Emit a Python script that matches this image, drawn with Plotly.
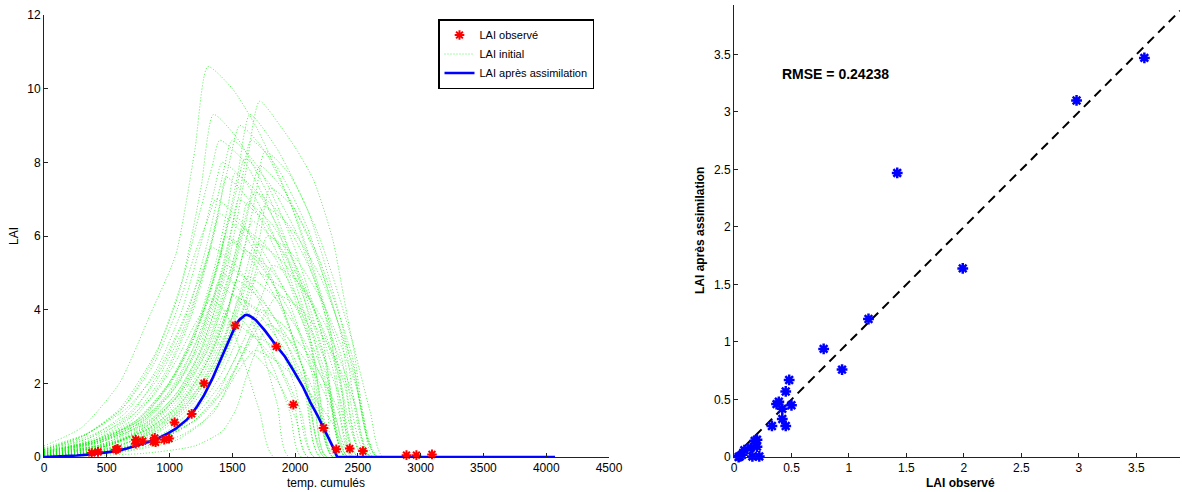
import plotly.graph_objects as go

# ---------------- Left panel data: LAI vs cumulative temperature ----------------
obs_temp = [380, 430, 572, 585, 731, 731, 787, 870, 882, 889, 958, 996, 1040,
            1176, 1275, 1524, 1850, 1986, 2226, 2328, 2435, 2540, 2887, 2966, 3090]
obs_lai = [0.11, 0.14, 0.20, 0.22, 0.47, 0.36, 0.43, 0.42, 0.52, 0.40, 0.47, 0.50, 0.94,
           1.17, 2.00, 3.57, 3.00, 1.42, 0.79, 0.21, 0.23, 0.16, 0.05, 0.05, 0.07]

sim_end = 4070
assim_temp = [0, 150, 262, 350, 420, 500, 579, 660, 737, 810, 880, 940, 990, 1050, 1100,
              1140, 1176, 1220, 1275, 1340, 1401, 1460, 1524, 1555, 1580, 1600, 1616, 1640,
              1686, 1760, 1850, 1920, 1986, 2060, 2128, 2180, 2226, 2265, 2302, 2335, sim_end]
assim_lai = [0, 0.015, 0.04, 0.065, 0.09, 0.12, 0.16, 0.23, 0.32, 0.39, 0.46, 0.56, 0.65, 0.77, 0.9,
             1.02, 1.17, 1.38, 1.68, 2.12, 2.6, 3.08, 3.56, 3.72, 3.8, 3.85, 3.86, 3.83,
             3.72, 3.43, 3.02, 2.72, 2.35, 1.92, 1.44, 1.12, 0.79, 0.53, 0.27, 0, 0]

# initial-LAI ensemble curves, (temp, LAI) points
init_01 = [(0, 0.3), (300, 0.8), (600, 2.0), (850, 3.9), (1050, 5.5), (1200, 8.3), (1305, 10.6),
           (1500, 10.0), (1700, 8.9), (1950, 7.0), (2200, 4.4), (2380, 1.6), (2460, 0)]
init_02 = [(0, 0.05), (500, 0.3), (800, 0.8), (1050, 1.6), (1250, 2.9), (1450, 5.0), (1600, 7.6),
           (1717, 9.66), (1880, 9.0), (2020, 8.3), (2150, 7.5), (2300, 5.9), (2440, 3.4), (2600, 1.2), (2700, 0)]
init_03 = [(0, 0.2), (300, 0.55), (600, 1.3), (900, 2.9), (1100, 4.8), (1250, 7.3), (1350, 9.3),
           (1550, 8.6), (1800, 7.0), (2050, 4.6), (2250, 1.7), (2330, 0)]
init_04 = [(0, 0.1), (400, 0.4), (700, 0.9), (1000, 2.0), (1200, 3.3), (1400, 5.4), (1540, 7.6),
           (1640, 9.3), (1850, 8.4), (2100, 6.7), (2350, 3.9), (2550, 1.0), (2620, 0)]
init_05 = [(0, 0.15), (400, 0.5), (700, 1.2), (950, 2.5), (1150, 4.0), (1300, 5.8), (1420, 7.6),
           (1500, 8.6), (1700, 7.9), (1950, 6.1), (2200, 3.5), (2450, 0)]
init_06 = [(0, 0.08), (450, 0.4), (800, 1.1), (1050, 2.3), (1250, 3.8), (1420, 5.7), (1530, 7.2),
           (1600, 8.1), (1800, 7.4), (2050, 5.8), (2300, 3.2), (2550, 0)]
init_07 = [(0, 0.12), (400, 0.45), (700, 1.0), (950, 2.1), (1150, 3.6), (1300, 5.3), (1400, 6.8),
           (1450, 7.6), (1650, 6.9), (1900, 5.2), (2150, 2.7), (2300, 0)]
init_08 = [(0, 0.05), (500, 0.3), (850, 0.9), (1100, 1.8), (1300, 3.0), (1480, 4.8), (1620, 6.7),
           (1720, 7.9), (1920, 7.2), (2150, 5.6), (2400, 3.0), (2600, 0)]
init_09 = [(0, 0.1), (450, 0.4), (800, 1.0), (1050, 2.0), (1250, 3.4), (1400, 4.9), (1500, 6.3),
           (1550, 7.0), (1750, 6.4), (2000, 4.9), (2250, 2.5), (2400, 0)]
init_10 = [(0, 0.2), (350, 0.55), (650, 1.1), (900, 2.1), (1100, 3.4), (1250, 4.8), (1350, 6.0),
           (1400, 6.6), (1600, 6.0), (1850, 4.5), (2080, 2.2), (2200, 0)]
init_11 = [(0, 0.06), (500, 0.3), (850, 0.8), (1100, 1.6), (1300, 2.7), (1480, 4.2), (1600, 5.7),
           (1660, 6.4), (1860, 5.8), (2100, 4.4), (2350, 2.2), (2500, 0)]
init_12 = [(0, 0.15), (450, 0.45), (800, 1.0), (1050, 1.9), (1250, 3.1), (1380, 4.4), (1460, 5.4),
           (1500, 5.9), (1700, 5.3), (1950, 4.0), (2180, 2.0), (2300, 0)]
init_13 = [(0, 0.03), (600, 0.25), (950, 0.75), (1200, 1.5), (1400, 2.5), (1580, 3.9), (1710, 5.3),
           (1780, 6.0), (1980, 5.5), (2220, 4.2), (2480, 2.0), (2650, 0)]
init_14 = [(0, 0.12), (450, 0.4), (800, 0.9), (1050, 1.7), (1230, 2.8), (1350, 3.9), (1420, 4.8),
           (1450, 5.2), (1650, 4.7), (1880, 3.5), (2080, 1.7), (2200, 0)]
init_15 = [(0, 0.05), (500, 0.25), (900, 0.7), (1150, 1.4), (1350, 2.4), (1480, 3.4), (1570, 4.4),
           (1620, 4.9), (1820, 4.4), (2050, 3.3), (2280, 1.6), (2400, 0)]
init_16 = [(0, 0.02), (650, 0.2), (1000, 0.6), (1250, 1.3), (1450, 2.2), (1620, 3.4), (1760, 4.6),
           (1820, 5.2), (2010, 4.8), (2240, 3.6), (2460, 1.7), (2600, 0)]
init_17 = [(0, 0.08), (500, 0.3), (850, 0.7), (1100, 1.3), (1300, 2.2), (1430, 3.1), (1510, 3.9),
           (1550, 4.3), (1740, 3.9), (1960, 2.9), (2150, 1.4), (2250, 0)]
init_18 = [(0, 0.03), (600, 0.2), (1000, 0.6), (1250, 1.1), (1450, 1.9), (1580, 2.8), (1680, 3.6),
           (1720, 4.0), (1900, 3.6), (2120, 2.7), (2340, 1.3), (2450, 0)]
init_19 = [(0, 0.1), (450, 0.3), (800, 0.65), (1050, 1.2), (1250, 2.0), (1370, 2.8), (1450, 3.4),
           (1480, 3.7), (1660, 3.3), (1870, 2.5), (2050, 1.2), (2150, 0)]
init_20 = [(0, 0.04), (550, 0.2), (950, 0.55), (1200, 1.0), (1400, 1.7), (1520, 2.4), (1610, 3.0),
           (1650, 3.3), (1830, 3.0), (2040, 2.2), (2220, 1.0), (2300, 0)]
init_21 = [(0, 0.02), (650, 0.15), (1050, 0.45), (1250, 0.9), (1400, 1.5), (1520, 2.2), (1620, 2.7),
           (1680, 2.9), (1850, 2.6), (2080, 1.9), (2300, 0.9), (2400, 0)]
init_22 = [(0, 0.18), (400, 0.45), (750, 0.95), (1000, 1.7), (1180, 2.7), (1300, 3.8), (1360, 4.4),
           (1380, 4.7), (1560, 4.2), (1780, 3.1), (1990, 1.5), (2100, 0)]
init_23 = [(0, 0.25), (350, 0.65), (650, 1.3), (900, 2.3), (1080, 3.5), (1220, 4.7), (1300, 5.4),
           (1330, 5.7), (1530, 5.2), (1770, 3.9), (2000, 1.9), (2150, 0)]
init_24 = [(0, 0.02), (700, 0.2), (1100, 0.6), (1350, 1.2), (1500, 2.2), (1650, 3.2), (1780, 4.0),
           (1860, 4.4), (2050, 4.0), (2270, 3.0), (2480, 1.4), (2600, 0)]
init_25 = [(0, 0.05), (550, 0.2), (950, 0.5), (1200, 1.0), (1380, 1.7), (1480, 2.4), (1540, 2.8),
           (1560, 3.0), (1700, 2.7), (1870, 2.0), (2010, 1.0), (2100, 0)]
init_26 = [(0, 0.2), (350, 0.5), (650, 1.0), (880, 1.7), (1050, 2.6), (1200, 3.6), (1290, 4.1),
           (1330, 4.3), (1450, 3.9), (1600, 2.5), (1720, 1.2), (1830, 0)]
init_27 = [(0, 0.01), (800, 0.1), (1200, 0.3), (1420, 0.7), (1530, 1.3), (1614, 2.2), (1700, 3.0),
           (1780, 3.6), (1950, 3.2), (2150, 2.3), (2330, 1.0), (2420, 0)]
init_28 = [(0, 0.15), (400, 0.4), (750, 0.9), (1000, 1.8), (1180, 2.9), (1320, 4.1), (1390, 4.7),
           (1420, 5.0), (1560, 4.5), (1720, 3.1), (1860, 1.4), (1950, 0)]
init_29 = [(0, 0.18), (350, 0.5), (650, 1.2), (900, 2.4), (1100, 4.0), (1250, 5.8), (1360, 7.3),
           (1420, 8.0), (1620, 7.4), (1870, 5.7), (2120, 3.2), (2350, 0)]
init_30 = [(0, 0.12), (400, 0.45), (700, 1.1), (950, 2.2), (1150, 3.7), (1320, 5.7), (1470, 7.9),
           (1560, 9.0), (1760, 8.3), (2010, 6.5), (2260, 3.8), (2500, 0)]
init_31 = [(0, 0.05), (500, 0.3), (850, 0.85), (1100, 1.7), (1300, 2.9), (1460, 4.5), (1590, 6.1),
           (1680, 7.2), (1880, 6.6), (2120, 5.1), (2370, 2.7), (2550, 0)]
init_32 = [(0, 0.14), (420, 0.45), (760, 1.0), (1000, 2.0), (1200, 3.3), (1340, 4.7), (1430, 5.9),
           (1480, 6.5), (1680, 5.9), (1920, 4.5), (2140, 2.2), (2250, 0)]
init_33 = [(0, 0.03), (550, 0.25), (900, 0.75), (1150, 1.5), (1360, 2.6), (1530, 4.1), (1660, 5.7),
           (1750, 6.8), (1950, 6.3), (2200, 4.9), (2460, 2.5), (2650, 0)]
init_34 = [(0, 0.07), (480, 0.3), (850, 0.8), (1100, 1.5), (1300, 2.6), (1450, 3.8), (1550, 5.0),
           (1600, 5.6), (1800, 5.1), (2030, 3.9), (2260, 1.9), (2400, 0)]
init_35 = [(0, 0.22), (330, 0.6), (620, 1.3), (870, 2.5), (1060, 4.0), (1200, 5.5), (1310, 6.5),
           (1370, 7.0), (1570, 6.4), (1820, 4.8), (2060, 2.4), (2250, 0)]
init_36 = [(0, 0.03), (600, 0.22), (980, 0.65), (1220, 1.3), (1420, 2.3), (1560, 3.4), (1650, 4.4),
           (1700, 5.0), (1890, 4.6), (2120, 3.5), (2350, 1.7), (2500, 0)]
init_37 = [(0, 0.1), (460, 0.33), (820, 0.75), (1070, 1.4), (1270, 2.4), (1400, 3.4), (1490, 4.3),
           (1530, 4.8), (1720, 4.3), (1950, 3.2), (2170, 1.6), (2300, 0)]
init_38 = [(0, 0.02), (620, 0.22), (980, 0.7), (1230, 1.5), (1430, 2.6), (1600, 4.2), (1720, 6.0),
           (1800, 7.3), (1980, 6.8), (2200, 5.3), (2450, 2.8), (2650, 0)]
init_39 = [(0, 0.15), (420, 0.4), (780, 0.85), (1030, 1.5), (1220, 2.4), (1350, 3.2), (1420, 3.8),
           (1450, 4.0), (1610, 3.6), (1800, 2.6), (1960, 1.2), (2050, 0)]
init_40 = [(0, 0.06), (470, 0.35), (820, 1.0), (1070, 2.0), (1270, 3.4), (1440, 5.3), (1570, 7.4),
           (1650, 8.6), (1850, 7.9), (2100, 6.2), (2360, 3.4), (2580, 0)]
init_41 = [(0, 0.1), (430, 0.42), (760, 1.05), (1010, 2.1), (1210, 3.5), (1370, 5.3), (1470, 6.9),
           (1520, 7.7), (1720, 7.1), (1970, 5.5), (2220, 2.9), (2420, 0)]
init_42 = [(0, 0.06), (480, 0.32), (840, 0.9), (1090, 1.8), (1290, 3.0), (1450, 4.6), (1570, 6.2),
           (1620, 6.9), (1820, 6.3), (2060, 4.8), (2300, 2.4), (2470, 0)]
init_43 = [(0, 0.16), (400, 0.45), (740, 1.0), (990, 1.9), (1180, 3.1), (1320, 4.4), (1410, 5.5),
           (1440, 6.0), (1640, 5.4), (1880, 4.1), (2100, 2.0), (2230, 0)]
init_44 = [(0, 0.04), (560, 0.27), (920, 0.75), (1170, 1.5), (1370, 2.5), (1530, 3.8), (1650, 5.2),
           (1700, 5.8), (1900, 5.3), (2140, 4.1), (2390, 2.0), (2540, 0)]
init_45 = [(0, 0.09), (460, 0.35), (820, 0.9), (1070, 1.8), (1270, 3.0), (1420, 4.4), (1530, 5.6),
           (1580, 6.2), (1780, 5.7), (2020, 4.3), (2260, 2.1), (2420, 0)]
init_46 = [(0, 0.03), (560, 0.26), (900, 0.8), (1150, 1.7), (1360, 3.0), (1540, 4.9), (1680, 7.0),
           (1760, 8.3), (1950, 7.7), (2190, 6.0), (2450, 3.2), (2660, 0)]
init_47 = [(0, 0.2), (330, 0.6), (630, 1.35), (880, 2.7), (1080, 4.5), (1230, 6.5), (1340, 7.9),
           (1400, 8.6), (1600, 8.0), (1850, 6.3), (2100, 3.6), (2320, 0)]
init_48 = [(0, 0.1), (460, 0.32), (820, 0.72), (1070, 1.3), (1260, 2.2), (1390, 3.1), (1470, 4.0),
           (1500, 4.4), (1680, 4.0), (1900, 3.0), (2110, 1.5), (2230, 0)]
init_curves = [init_01, init_02, init_03, init_04, init_05, init_06, init_07, init_08, init_09,
               init_10, init_11, init_12, init_13, init_14, init_15, init_16, init_17, init_18,
               init_19, init_20, init_21, init_22, init_23, init_24, init_25, init_26, init_27,
               init_28, init_29, init_30, init_31, init_32, init_33, init_34, init_35, init_36,
               init_37, init_38, init_39, init_40, init_41, init_42, init_43, init_44, init_45,
               init_46, init_47, init_48]

# ---------------- Right panel data: observed vs assimilated ----------------
scat_obs = [3.57, 2.98, 1.42, 1.99, 1.17, 0.78, 0.94, 0.48, 0.45, 0.39, 0.37, 0.42, 0.50,
            0.42, 0.45, 0.33, 0.20, 0.18, 0.20, 0.145, 0.09, 0.16, 0.22, 0.05, 0.07, 0.04]
scat_assim = [3.47, 3.10, 2.47, 1.64, 1.20, 0.94, 0.76, 0.67, 0.57, 0.48, 0.46, 0.42, 0.45,
              0.33, 0.27, 0.27, 0.15, 0.14, 0.09, 0.08, 0.06, 0.005, 0.005, 0.005, 0.02, 0.0]
one_to_one = [0, 3.88]
rmse_label = "RMSE = 0.24238"
rmse_pos = (0.40, 3.33)

FONT = "Liberation Sans, Arial, Helvetica, sans-serif"
W, H = 1182, 492   # reference picture size, used for the paper-fraction layout

fig = go.Figure()

for i, curve in enumerate(init_curves):
    xs = [p[0] for p in curve] + [sim_end]
    ys = [p[1] for p in curve] + [0]
    fig.add_trace(go.Scatter(
        x=xs, y=ys, mode="lines", name="LAI initial", legendgroup="init",
        showlegend=(i == 0), legendrank=2,
        line=dict(color="rgba(0,240,0,0.7)", width=1, dash="1px,2px",
                  shape="spline", smoothing=0.6),
        hoverinfo="skip", xaxis="x", yaxis="y"))

fig.add_trace(go.Scatter(
    x=assim_temp, y=assim_lai, mode="lines", name="LAI après assimilation",
    legendrank=3, line=dict(color="#0000ff", width=2.6), xaxis="x", yaxis="y"))

fig.add_trace(go.Scatter(
    x=obs_temp, y=obs_lai, mode="markers", name="LAI observé", legendrank=1,
    marker=dict(symbol="asterisk", size=8, color="red", line=dict(color="red", width=2)),
    cliponaxis=False, xaxis="x", yaxis="y"))

fig.add_trace(go.Scatter(
    x=one_to_one, y=one_to_one, mode="lines", showlegend=False,
    line=dict(color="black", width=2, dash="9px,6px"), xaxis="x2", yaxis="y2"))

fig.add_trace(go.Scatter(
    x=scat_obs, y=scat_assim, mode="markers", showlegend=False,
    marker=dict(symbol="asterisk", size=9, color="blue", line=dict(color="blue", width=2.5)),
    cliponaxis=False, xaxis="x2", yaxis="y2"))

axis_common = dict(showgrid=False, zeroline=False, showline=True, linecolor="#222",
                   linewidth=1, ticks="inside", ticklen=4, tickcolor="#222",
                   tickfont=dict(family=FONT, size=12, color="black"), mirror=False,
                   automargin=False)

fig.update_layout(
    autosize=True,
    margin=dict(l=0, r=0, t=0, b=0, pad=0),
    paper_bgcolor="white", plot_bgcolor="white",
    font=dict(family=FONT, size=12, color="black"),
    xaxis=dict(domain=[44 / W, 609 / W], range=[0, 4500], tick0=0, dtick=500,
               anchor="y", **axis_common),
    yaxis=dict(domain=[35 / H, 477 / H], range=[0, 12], tick0=0, dtick=2,
               anchor="x", **axis_common),
    xaxis2=dict(domain=[734 / W, 1180 / W], range=[0, 3.88], tick0=0, dtick=0.5,
                anchor="y2", **axis_common),
    yaxis2=dict(domain=[35 / H, 487 / H], range=[0, 3.93], tick0=0, dtick=0.5,
                anchor="x2", **axis_common),
    legend=dict(x=438 / W, y=1 - 19 / H, xanchor="left", yanchor="top",
                bgcolor="white", bordercolor="black", borderwidth=1.5,
                font=dict(family=FONT, size=11, color="black"),
                tracegroupgap=0, itemwidth=30),
    showlegend=True,
)

annotations = [
    dict(text="temp. cumulés", x=326 / W, y=1 - 483 / H, xref="paper", yref="paper",
         xanchor="center", yanchor="middle", showarrow=False, font=dict(family=FONT, size=12)),
    dict(text="LAI", x=14 / W, y=1 - 236 / H, xref="paper", yref="paper",
         xanchor="center", yanchor="middle", showarrow=False, textangle=-90,
         font=dict(family=FONT, size=12)),
    dict(text="<b>LAI observé</b>", x=960 / W, y=1 - 483 / H, xref="paper", yref="paper",
         xanchor="center", yanchor="middle", showarrow=False, font=dict(family=FONT, size=12)),
    dict(text="<b>LAI après assimilation</b>", x=700 / W, y=1 - 231 / H, xref="paper",
         yref="paper", xanchor="center", yanchor="middle", showarrow=False, textangle=-90,
         font=dict(family=FONT, size=12)),
    dict(text="<b>" + rmse_label + "</b>", x=rmse_pos[0], y=rmse_pos[1], xref="x2", yref="y2",
         xanchor="left", yanchor="middle", showarrow=False, font=dict(family=FONT, size=14)),
]
fig.update_layout(annotations=annotations)

post = (
    "document.documentElement.style.margin='0px';"
    "document.documentElement.style.padding='0px';"
    "document.documentElement.style.overflow='hidden';"
    "document.body.style.margin='0px';"
    "document.body.style.padding='0px';"
    "document.body.style.overflow='hidden';"
    "var gd=document.getElementById('{plot_id}');"
    "gd.style.width='100vw';gd.style.height='100vh';"
    "Plotly.Plots.resize(gd);"
)

fig.write_html(
    "out.html",
    config={"displayModeBar": False, "responsive": True},
    default_width="100vw",
    default_height="100vh",
    post_script=post,
)
